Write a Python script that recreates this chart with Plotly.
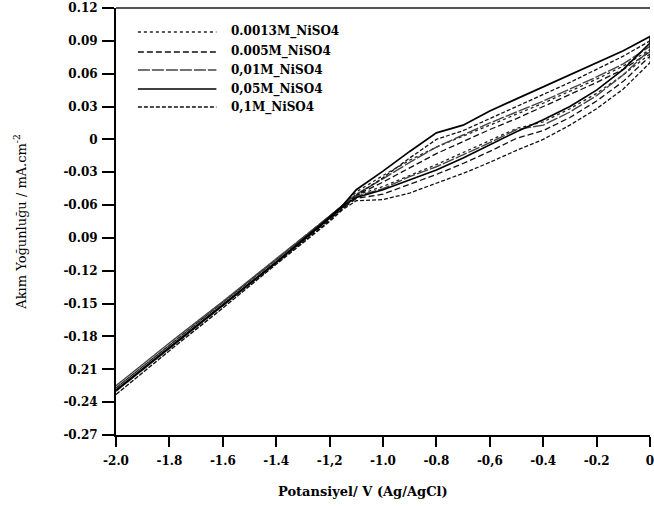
import plotly.graph_objects as go

# Potential axis (V vs Ag/AgCl), forward sweep points
potential = [-2.0, -1.8, -1.6, -1.4, -1.2, -1.15, -1.1, -1.0, -0.9, -0.8, -0.7,
             -0.6, -0.5, -0.4, -0.3, -0.2, -0.1, 0.0]

series_names = ["0.0013M_NiSO4", "0.005M_NiSO4", "0,01M_NiSO4",
                "0,05M_NiSO4", "0,1M_NiSO4"]

# current density (mA cm-2): upper and lower branches of each loop
upper_00013 = [-0.227, -0.188, -0.149, -0.110, -0.070, -0.060, -0.048, -0.033, -0.019,
               -0.007, 0.003, 0.013, 0.023, 0.033, 0.044, 0.055, 0.067, 0.082]
lower_00013 = [-0.227, -0.188, -0.149, -0.110, -0.070, -0.060, -0.051, -0.043, -0.033,
               -0.023, -0.012, -0.001, 0.010, 0.016, 0.028, 0.042, 0.059, 0.078]

upper_0005 = [-0.230, -0.191, -0.152, -0.113, -0.072, -0.062, -0.051, -0.039, -0.026,
              -0.013, -0.002, 0.009, 0.019, 0.030, 0.041, 0.052, 0.064, 0.080]
lower_0005 = [-0.230, -0.191, -0.152, -0.113, -0.073, -0.063, -0.054, -0.050, -0.041,
              -0.032, -0.022, -0.011, 0.001, 0.008, 0.020, 0.035, 0.053, 0.076]

upper_001 = [-0.225, -0.186, -0.148, -0.109, -0.071, -0.060, -0.050, -0.036, -0.021,
             -0.007, 0.004, 0.015, 0.025, 0.035, 0.046, 0.057, 0.069, 0.085]
lower_001 = [-0.225, -0.186, -0.148, -0.109, -0.070, -0.060, -0.052, -0.045, -0.034,
             -0.025, -0.014, -0.003, 0.009, 0.013, 0.025, 0.040, 0.059, 0.082]

upper_005 = [-0.229, -0.190, -0.151, -0.112, -0.071, -0.060, -0.046, -0.029, -0.011,
             0.006, 0.013, 0.026, 0.037, 0.048, 0.059, 0.070, 0.081, 0.094]
lower_005 = [-0.229, -0.190, -0.151, -0.112, -0.072, -0.061, -0.053, -0.046, -0.037,
             -0.028, -0.017, -0.005, 0.007, 0.018, 0.030, 0.045, 0.064, 0.088]

upper_01 = [-0.233, -0.193, -0.154, -0.114, -0.074, -0.063, -0.051, -0.035, -0.017,
            0.000, 0.008, 0.019, 0.030, 0.041, 0.052, 0.064, 0.076, 0.090]
lower_01 = [-0.233, -0.193, -0.154, -0.114, -0.075, -0.064, -0.056, -0.055, -0.049,
            -0.040, -0.031, -0.021, -0.010, 0.000, 0.013, 0.028, 0.046, 0.070]

uppers = [upper_00013, upper_0005, upper_001, upper_005, upper_01]
lowers = [lower_00013, lower_0005, lower_001, lower_005, lower_01]

y_tickvals = [0.12, 0.09, 0.06, 0.03, 0.0, -0.03, -0.06, -0.09, -0.12, -0.15,
              -0.18, -0.21, -0.24, -0.27]
y_ticktext = ["0.12", "0.09", "0.06", "0.03", "0", "-0.03", "-0.06", "0.09",
              "-0.12", "-0.15", "-0.18", "0.21", "-0.24", "-0.27"]
x_tickvals = [-2.0, -1.8, -1.6, -1.4, -1.2, -1.0, -0.8, -0.6, -0.4, -0.2, 0.0]
x_ticktext = ["-2.0", "-1.8", "-1.6", "-1.4", "-1,2", "-1.0", "-0.8", "-0,6",
              "-0.4", "-0.2", "0"]

styles = [
    dict(color="#222222", width=1.3, dash="dot"),
    dict(color="#111111", width=1.3, dash="6px,3px"),
    dict(color="#444444", width=1.4, dash="12px,2px"),
    dict(color="#000000", width=1.7, dash="solid"),
    dict(color="#111111", width=1.3, dash="4px,2px"),
]

FONT = "DejaVu Serif"

fig = go.Figure()
for name, up, lo, st in zip(series_names, uppers, lowers, styles):
    xs = potential + potential[::-1]
    ys = up + lo[::-1]
    fig.add_trace(go.Scatter(x=xs, y=ys, mode="lines", name=name,
                             line=st, showlegend=False))

# manual legend (long line samples like the reference)
leg_y = [0.9438, 0.8970, 0.8548, 0.8103, 0.7681]
for name, st, yy in zip(series_names, styles, leg_y):
    fig.add_shape(type="line", xref="paper", yref="paper",
                  x0=0.041, x1=0.188, y0=yy, y1=yy,
                  line=dict(color=st["color"], width=st["width"], dash=st["dash"]))
    fig.add_annotation(xref="paper", yref="paper", x=0.212, y=yy,
                       xanchor="left", yanchor="middle", showarrow=False,
                       text=name,
                       font=dict(family=FONT, size=12, color="black", weight="bold"))

# top frame line
fig.add_shape(type="line", xref="paper", yref="paper", x0=0, x1=1, y0=1, y1=1,
              line=dict(color="#555555", width=2))

# x-axis title (placed slightly left of centre, as in the reference)
fig.add_annotation(xref="paper", yref="paper", x=(365 - 116) / 538,
                   y=-(492 - 435) / 427, xanchor="center", yanchor="middle",
                   showarrow=False, text="Potansiyel/ V (Ag/AgCl)",
                   font=dict(family=FONT, size=13, color="black", weight="bold"))

fig.update_layout(
    width=654, height=506,
    margin=dict(l=116, r=0, t=8, b=71),
    paper_bgcolor="white", plot_bgcolor="white",
    xaxis=dict(range=[-2.0, 0.0], tickvals=x_tickvals, ticktext=x_ticktext,
               showgrid=False, zeroline=False, showline=True,
               linecolor="black", linewidth=2, ticks="outside", ticklen=10,
               tickwidth=2, tickcolor="black", ticklabeloverflow="allow",
               ticklabelstandoff=4,
               tickfont=dict(family=FONT, size=12, color="black", weight="bold")),
    yaxis=dict(range=[-0.27, 0.12], tickvals=y_tickvals, ticktext=y_ticktext,
               showgrid=False, zeroline=False, showline=True,
               linecolor="black", linewidth=2, ticks="outside", ticklen=12,
               tickwidth=1.5, tickcolor="black", ticklabeloverflow="allow",
               ticklabelstandoff=2,
               title=dict(text="Akım Yoğunluğu / mA.cm<sup>-2</sup>", standoff=34,
                          font=dict(family=FONT, size=13, color="black")),
               tickfont=dict(family=FONT, size=12, color="black", weight="bold")),
)

fig.write_html("out.html")
